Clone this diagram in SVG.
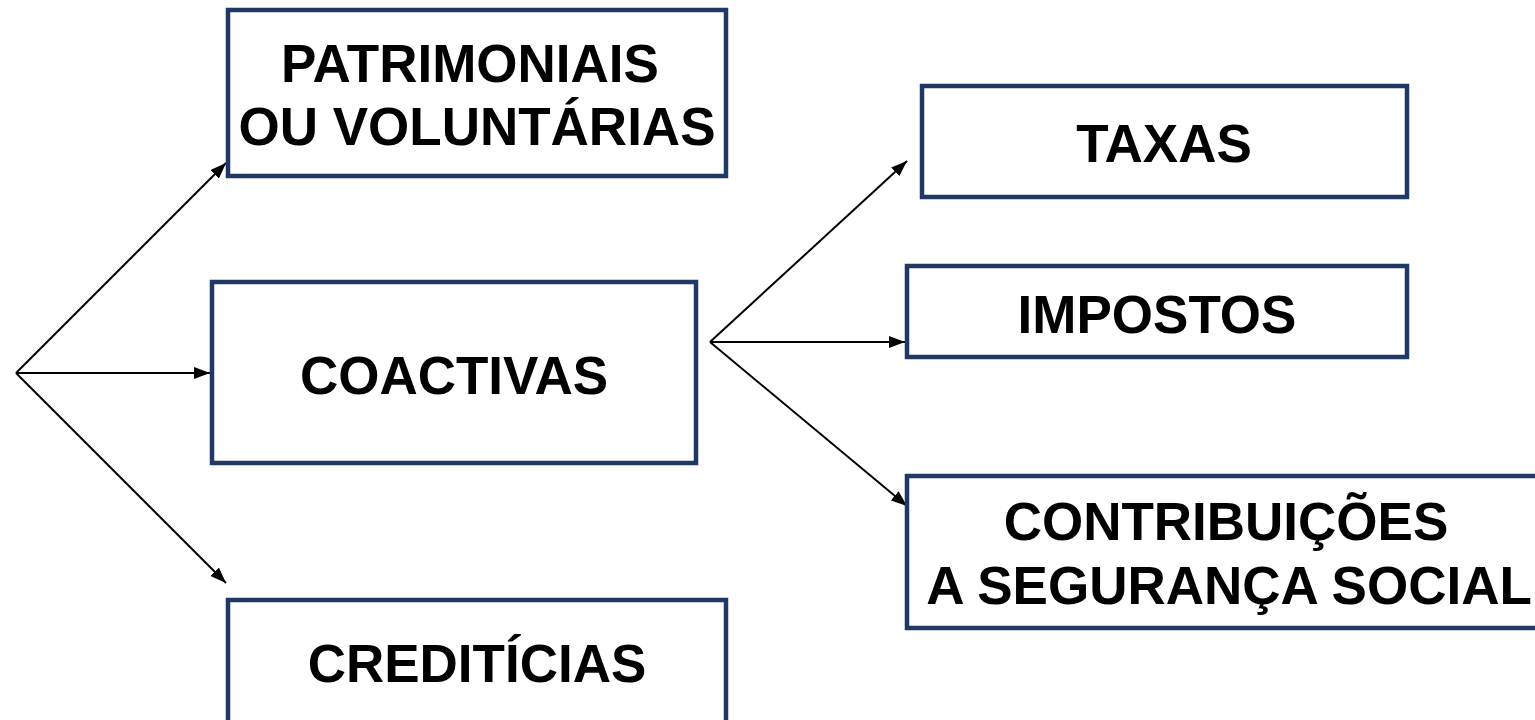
<svg xmlns="http://www.w3.org/2000/svg" width="1535" height="720" viewBox="0 0 1535 720">
<defs>
<marker id="ah" viewBox="0 0 16 12" refX="16" refY="6" markerWidth="16" markerHeight="12" markerUnits="userSpaceOnUse" orient="auto">
<path d="M0,0 L16,6 L0,12 Z" fill="#000"/>
</marker>
</defs>
<style>
.box{fill:#fff;stroke:#203864;stroke-width:4.5}
.t{font-family:"Liberation Sans",Arial,sans-serif;font-weight:bold;font-size:53px;fill:#000;text-anchor:middle}
.c{stroke:#000;stroke-width:2;fill:none;marker-end:url(#ah)}
</style>
<rect width="1535" height="720" fill="#fff"/>
<g id="connectors">
<line class="c" x1="16" y1="373" x2="226" y2="163"/>
<line class="c" x1="16" y1="373" x2="210" y2="373"/>
<line class="c" x1="16" y1="373" x2="226" y2="583"/>
<line class="c" x1="710" y1="342" x2="907" y2="161"/>
<line class="c" x1="710" y1="342" x2="905" y2="342"/>
<line class="c" x1="710" y1="342" x2="907" y2="506"/>
</g>
<g id="patrimoniais">
<rect class="box" x="228" y="10" width="498" height="166"/>
<text class="t" x="470" y="82">PATRIMONIAIS</text>
<text class="t" x="477" y="145">OU VOLUNTÁRIAS</text>
</g>
<g id="coactivas">
<rect class="box" x="212" y="282" width="484" height="181"/>
<text class="t" x="454" y="394">COACTIVAS</text>
</g>
<g id="crediticias">
<rect class="box" x="228" y="600" width="498" height="130"/>
<text class="t" x="477" y="682">CREDITÍCIAS</text>
</g>
<g id="taxas">
<rect class="box" x="922" y="86" width="485" height="111"/>
<text class="t" x="1164" y="162">TAXAS</text>
</g>
<g id="impostos">
<rect class="box" x="907" y="266" width="500" height="91"/>
<text class="t" x="1157" y="333">IMPOSTOS</text>
</g>
<g id="contribuicoes">
<rect class="box" x="907" y="476" width="640" height="152"/>
<text class="t" x="1226" y="540">CONTRIBUIÇÕES</text>
<text class="t" x="1229" y="604">A SEGURANÇA SOCIAL</text>
</g>
</svg>
